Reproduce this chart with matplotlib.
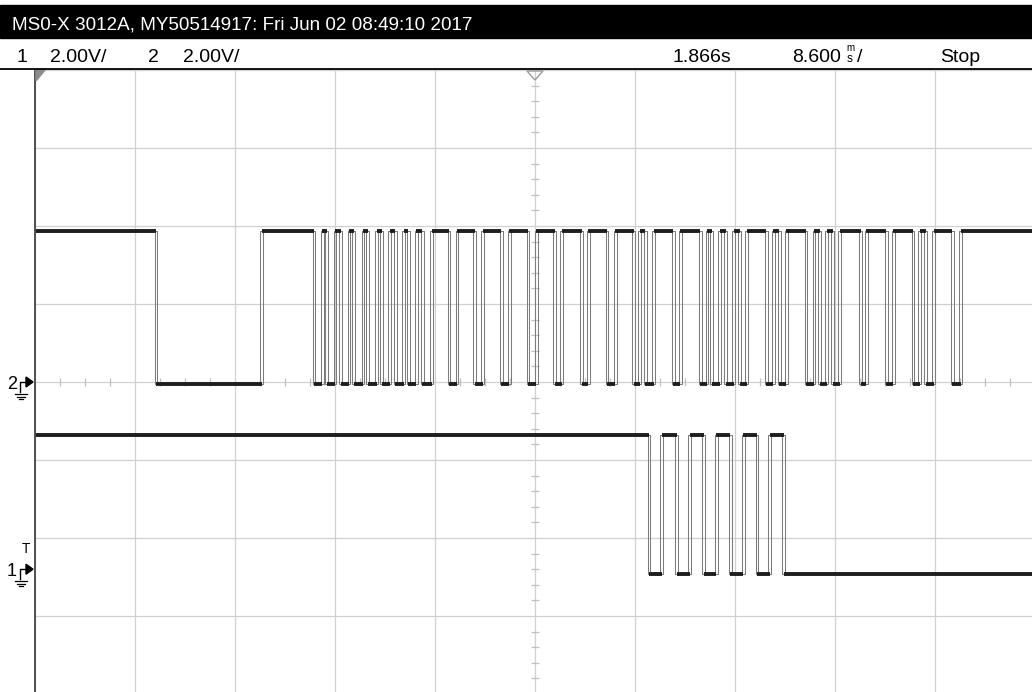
import numpy as np
import matplotlib
matplotlib.use('Agg')
import matplotlib.pyplot as plt
from matplotlib.patches import Rectangle, Polygon

plt.rcParams['font.family'] = ['Liberation Sans', 'DejaVu Sans']

# scope settings
T_DIV = 8.6      # ms/div
V_DIV = 2.0      # V/div
N_HDIV = 10
N_VDIV = 8

title = "MS0-X 3012A, MY50514917: Fri Jun 02 08:49:10 2017"
ch_scale_txt = ["1", "2.00V/", "2", "2.00V/"]
delay_txt = "1.866s"
timebase_txt = "8.600"
run_txt = "Stop"

# channel 2 (upper trace): edge times in ms from screen centre, starts high
ch2_edges = [-32.6, -23.5, -19.0,
             -18.3, -17.9, -17.2, -16.7, -16.0, -15.6, -14.8, -14.4,
             -13.6, -13.2, -12.5, -12.0, -11.3, -10.9, -10.2, -9.7,
             -8.9, -7.4, -6.7, -5.2, -4.5, -2.9, -2.2, -0.6,
             0.1, 1.7, 2.3, 4.0, 4.6, 6.2, 6.9, 8.5,
             9.0, 9.5, 10.2, 11.9, 12.5, 14.2, 14.8, 15.2,
             15.9, 16.4, 17.1, 17.6, 18.2, 19.9, 20.5, 21.0,
             21.6, 23.3, 24.0, 24.5, 25.1, 25.6, 26.2, 28.0,
             28.5, 30.2, 30.8, 32.5, 33.1, 33.6, 34.3, 35.9,
             36.6]
ch2_high = 3.86    # V
ch2_low = -0.05
ch2_ground = 0.0   # divisions from centre

# channel 1 (lower trace)
ch1_edges = [9.8, 10.9, 12.2, 13.3, 14.5, 15.6, 16.8, 17.9, 19.1, 20.2, 21.4]
ch1_high = 3.44
ch1_low = -0.13
ch1_ground = -2.4

W, H = 1032, 692
FS = 14
fig = plt.figure(figsize=(W / 100, H / 100), dpi=100)

# graticule area in pixels: x 35..1035, y 70..694 (from top)
ax = fig.add_axes([35 / W, (H - 694) / H, 1000 / W, 624 / H])
xmax = N_HDIV / 2 * T_DIV
ax.set_xlim(-xmax, xmax)
ax.set_ylim(-N_VDIV / 2, N_VDIV / 2)
ax.set_xticks(np.arange(-N_HDIV // 2, N_HDIV // 2 + 1) * T_DIV)
ax.set_yticks(np.arange(-N_VDIV // 2, N_VDIV // 2 + 1))
ax.grid(True, color='#d0d0d0', lw=0.9)
ax.tick_params(length=0, labelbottom=False, labelleft=False)
for s in ['top', 'right', 'bottom']:
    ax.spines[s].set_visible(False)
ax.spines['left'].set_color('#505050')
ax.spines['left'].set_linewidth(1.4)

# minor ticks on the centre lines
px_t = T_DIV / 100.0   # ms per pixel
px_v = 1 / 78.0        # div per pixel
yt = [k / 5 for k in range(-20, 21) if k % 5]
ax.hlines(yt, -4 * px_t, 4 * px_t, color='#c0c0c0', lw=0.9)
xt = [k * T_DIV / 4 for k in range(-20, 21) if k % 4]
ax.vlines(xt, -4 * px_v, 4 * px_v, color='#c0c0c0', lw=0.9)


def draw_trace(edges, hi, lo, ground, start_high=True):
    lvl = [hi, lo] if start_high else [lo, hi]
    bounds = [-xmax - 1] + list(edges) + [xmax + 1]
    levels = [lvl[i % 2] / V_DIV + ground for i in range(len(bounds) - 1)]
    # edges drawn as a faint double line
    for off in (-1.4 * px_t, 1.4 * px_t):
        xs, ys = [bounds[0]], [levels[0]]
        for i, e in enumerate(edges):
            xs += [e + off, e + off]
            ys += [levels[i], levels[i + 1]]
        xs.append(bounds[-1])
        ys.append(levels[-1])
        ax.plot(xs, ys, color='#7c7c7c', lw=0.75)
    # settled levels are heavy
    ax.hlines(levels, bounds[:-1], bounds[1:], color='#1e1e1e', lw=2.8,
              capstyle='butt')


draw_trace(ch2_edges, ch2_high, ch2_low, ch2_ground)
draw_trace(ch1_edges, ch1_high, ch1_low, ch1_ground)

# overlay in pixel units for header and markers
ov = fig.add_axes([0, 0, 1, 1], zorder=5)
ov.set_xlim(0, W)
ov.set_ylim(H, 0)
ov.axis('off')
ov.patch.set_visible(False)

ov.add_patch(Rectangle((0, 5), W, 33, color='black'))
ov.text(12, 30, title, color='white', fontsize=13.6, va='baseline')
for txt, x in zip(ch_scale_txt, [16, 50, 148, 183]):
    ov.text(x, 62, txt, color='black', fontsize=FS, va='baseline')
ov.text(672, 62, delay_txt, fontsize=FS, va='baseline')
ov.text(792, 62, timebase_txt, fontsize=FS, va='baseline')
ov.text(846, 51, 'm', fontsize=7, va='baseline')
ov.text(847, 62, 's', fontsize=8.5, va='baseline')
ov.text(857, 62, '/', fontsize=FS, va='baseline')
ov.text(940, 62, run_txt, fontsize=FS, va='baseline')
ov.plot([0, W], [69, 69], color='black', lw=1.3)

# time reference markers
ov.add_patch(Polygon([(36, 70), (45, 70), (36, 81)], color='#8c8c8c'))
ov.add_patch(Polygon([(527, 71), (543, 71), (535, 80)], fill=False,
                     edgecolor='#9a9a9a', lw=1))


def ground_marker(ground, label, trig=False):
    y0 = H - ax.transData.transform((0, ground))[1]
    ov.text(7, y0 + 7, label, fontsize=13, va='baseline')
    ov.plot([20, 20, 27], [y0 + 10, y0, y0], color='black', lw=1)
    ov.add_patch(Polygon([(26, y0 - 5), (33, y0), (26, y0 + 5)],
                         color='black'))
    for dy, x0, x1 in [(12, 15, 26.5), (14.5, 17, 24.5), (17, 19, 22.5)]:
        ov.plot([x0, x1], [y0 + dy, y0 + dy], color='black', lw=0.9)
    if trig:
        ov.text(22, y0 - 16, 'T', fontsize=10, va='baseline')


fig.canvas.draw()
ground_marker(ch2_ground, '2')
ground_marker(ch1_ground, '1', trig=True)

fig.savefig('out.png', dpi=100)
